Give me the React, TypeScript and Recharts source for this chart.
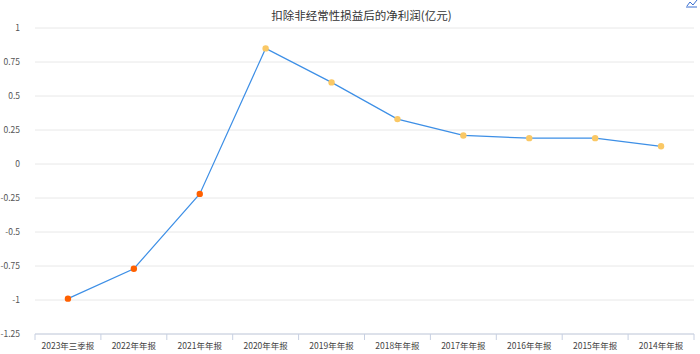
import * as React from "react"
import {
  CartesianGrid,
  Line,
  LineChart,
  XAxis,
  YAxis,
} from "recharts"

const periods = [
  "2023年三季报",
  "2022年年报",
  "2021年年报",
  "2020年年报",
  "2019年年报",
  "2018年年报",
  "2017年年报",
  "2016年年报",
  "2015年年报",
  "2014年年报",
]

const profit = [-0.99, -0.77, -0.22, 0.85, 0.6, 0.33, 0.21, 0.19, 0.19, 0.13]

const yTicks = [-1.25, -1, -0.75, -0.5, -0.25, 0, 0.25, 0.5, 0.75, 1]

const data = periods.map((period, i) => ({ period, value: profit[i] }))

const W = 700
const H = 354
const margin = { top: 28, right: 6, left: 0, bottom: 0 }
const yAxisWidth = 35
const plotLeft = margin.left + yAxisWidth
const plotWidth = W - plotLeft - margin.right
const step = plotWidth / periods.length

const font = '"Noto Sans CJK SC", "Noto Sans", sans-serif'

function ProfitDot(props: any) {
  const { cx, cy, payload } = props
  if (cx == null || cy == null) return null
  const fill = payload.value < 0 ? "#ff6000" : "#fac865"
  return <circle cx={cx} cy={cy} r={3.2} fill={fill} stroke="none" />
}

function PeriodTick(props: any) {
  const { x, y, payload, index } = props
  const last = index === periods.length - 1
  return (
    <g>
      <line x1={x - step / 2} y1={y - 8} x2={x - step / 2} y2={y - 2} stroke="#c7d0e2" />
      {last && (
        <line x1={x + step / 2} y1={y - 8} x2={x + step / 2} y2={y - 2} stroke="#c7d0e2" />
      )}
      <text
        x={x}
        y={y + 7}
        textAnchor="middle"
        fontSize={8.5}
        fill="#444"
        fontFamily={font}
      >
        {payload.value}
      </text>
    </g>
  )
}

export default function App() {
  return (
    <div
      style={{
        position: "absolute",
        left: 0,
        top: 0,
        width: W,
        height: H,
        background: "#fff",
        fontFamily: font,
      }}
    >
      <div
        style={{
          position: "absolute",
          top: 7,
          left: plotLeft,
          width: plotWidth - 6,
          textAlign: "center",
          fontSize: 11.5,
          lineHeight: "16px",
          color: "#333",
        }}
      >
        扣除非经常性损益后的净利润(亿元)
      </div>
      <svg
        width={12}
        height={8}
        style={{ position: "absolute", left: 686, top: 0 }}
      >
        <polyline points="1,6 4,2 7,5 11,0" fill="none" stroke="#3b6fd0" strokeWidth={1} />
        <line x1={0} y1={7} x2={11} y2={7} stroke="#3b6fd0" strokeWidth={1} />
      </svg>
      <LineChart width={W} height={H} data={data} margin={margin}>
        <CartesianGrid vertical={false} stroke="#e8e8e8" />
        <XAxis
          dataKey="period"
          scale="band"
          interval={0}
          height={20}
          tickLine={false}
          axisLine={{ stroke: "#c7d0e2" }}
          tick={<PeriodTick />}
        />
        <YAxis
          width={yAxisWidth}
          domain={[-1.25, 1]}
          ticks={yTicks}
          axisLine={false}
          tickLine={false}
          tickMargin={9}
          tick={{ fontSize: 8.5, fill: "#555", fontFamily: font }}
        />
        <Line
          type="linear"
          dataKey="value"
          stroke="#3d8fe6"
          strokeWidth={1.2}
          dot={<ProfitDot />}
          activeDot={false}
          isAnimationActive={false}
        />
      </LineChart>
    </div>
  )
}
